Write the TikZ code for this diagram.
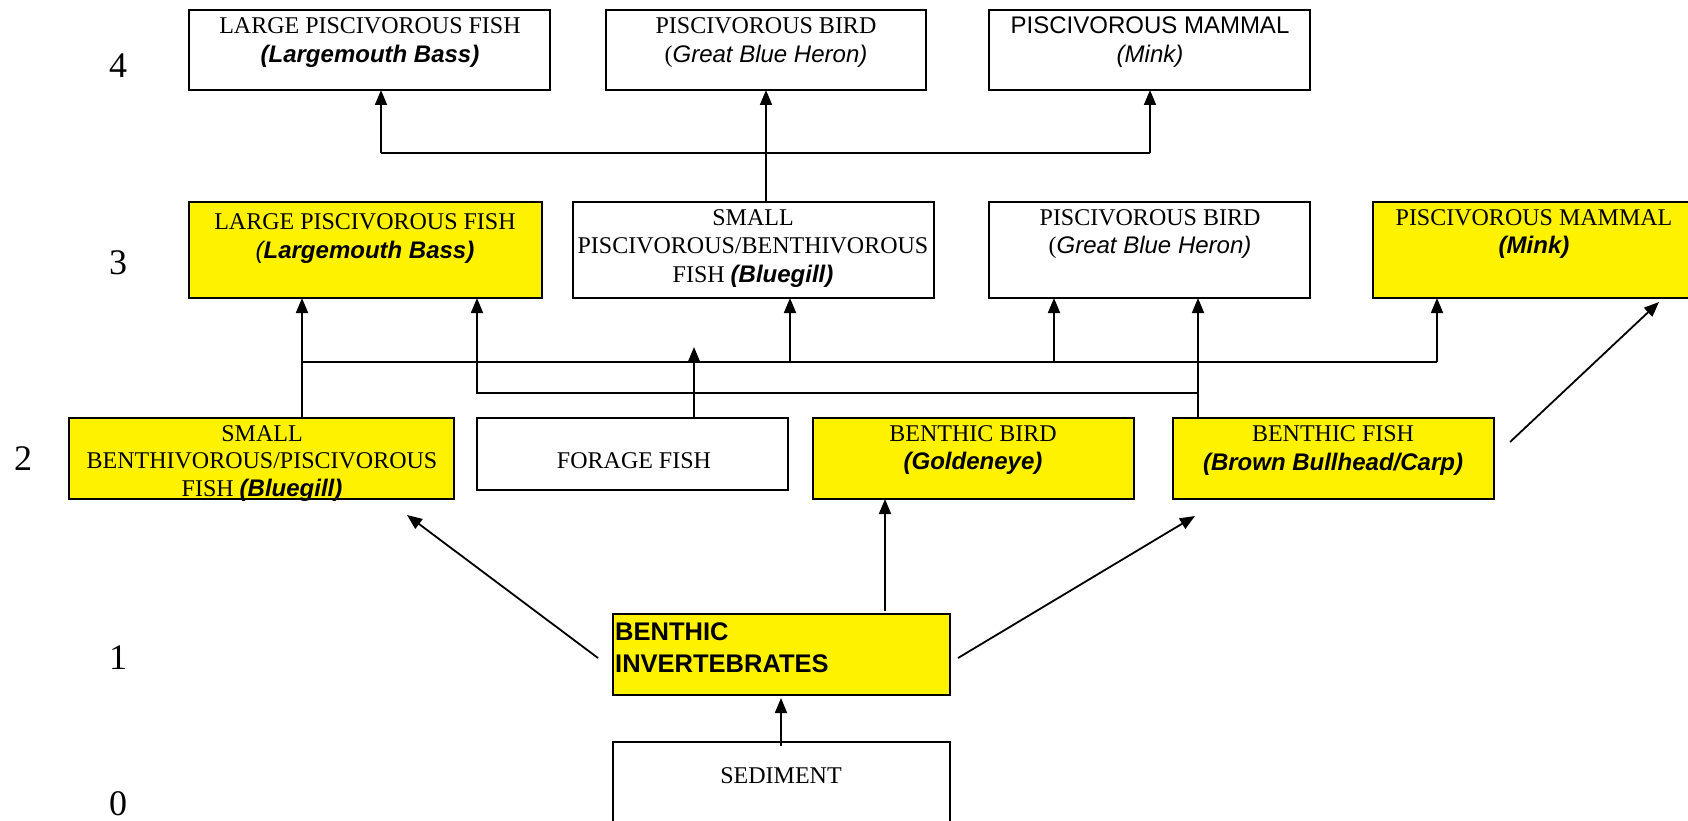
\documentclass[tikz,border=0pt]{standalone}
\usepackage{fontspec}
\setmainfont{Liberation Serif}
\setsansfont{Liberation Sans}
\usetikzlibrary{arrows.meta}
\newcommand\sbi[1]{{\sffamily\bfseries\itshape #1}}
\newcommand\sit[1]{{\sffamily\itshape #1}}
\tikzset{
  box/.style={draw=black, line width=1.8pt, anchor=north west, inner sep=0pt, outer sep=0pt},
  ybox/.style={box, fill=yellow},
  wbox/.style={box, fill=white},
  lbl/.style={anchor=base, inner sep=0pt, font=\fontsize{24}{28}\selectfont},
  lvl/.style={anchor=base, inner sep=0pt, font=\fontsize{36}{40}\selectfont},
  conn/.style={line width=1.8pt},
  arr/.style={conn, -{Triangle[length=15pt,width=12pt]}},
}
\begin{document}
\begin{tikzpicture}[x=1pt,y=-1pt]
\clip (0,0) rectangle (1688,821);
\fill[white] (0,0) rectangle (1688,821);

% level numbers
\node[lvl] (n4) at (118,78) {4};
\node[lvl] (n3) at (118,274) {3};
\node[lvl] (n2) at (23,470) {2};
\node[lvl] (n1) at (118,669) {1};
\node[lvl] (n0) at (118,815) {0};

% level 4
\node[wbox, minimum width=361pt, minimum height=80pt] (a4) at (189,10) {};
\node[lbl] (a4t1) at (370,34) {LARGE PISCIVOROUS FISH};
\node[lbl] (a4t2) at (370,63) {\sbi{(Largemouth Bass)}};
\node[wbox, minimum width=320pt, minimum height=80pt] (b4) at (606,10) {};
\node[lbl] (b4t1) at (766,34) {PISCIVOROUS BIRD};
\node[lbl] (b4t2) at (766,63) {(\sit{Great Blue Heron)}};
\node[wbox, minimum width=321pt, minimum height=80pt] (c4) at (989,10) {};
\node[lbl] (c4t1) at (1150,34) {\sffamily PISCIVOROUS MAMMAL};
\node[lbl] (c4t2) at (1150,63) {\sit{(Mink)}};

% level 3
\node[ybox, minimum width=353pt, minimum height=96pt] (a3) at (189,202) {};
\node[lbl] (a3t1) at (365,229) {LARGE PISCIVOROUS FISH};
\node[lbl] (a3t2) at (365,258) {\sit{(}\sbi{Largemouth Bass)}};
\node[wbox, minimum width=361pt, minimum height=96pt] (b3) at (573,202) {};
\node[lbl] (b3t1) at (753,225) {SMALL};
\node[lbl] (b3t2) at (753,253) {PISCIVOROUS/BENTHIVOROUS};
\node[lbl] (b3t3) at (753,282) {FISH \sbi{(Bluegill)}};
\node[wbox, minimum width=321pt, minimum height=96pt] (c3) at (989,202) {};
\node[lbl] (c3t1) at (1150,225) {PISCIVOROUS BIRD};
\node[lbl] (c3t2) at (1150,253) {(\sit{Great Blue Heron)}};
\node[ybox, minimum width=324pt, minimum height=96pt] (d3) at (1373,202) {};
\node[lbl] (d3t1) at (1534,225) {PISCIVOROUS MAMMAL};
\node[lbl] (d3t2) at (1534,253) {\sbi{(Mink)}};

% level 2
\node[ybox, minimum width=385pt, minimum height=81pt] (a2) at (69,418) {};
\node[lbl] (a2t1) at (262,441) {SMALL};
\node[lbl] (a2t2) at (262,468) {BENTHIVOROUS/PISCIVOROUS};
\node[lbl] (a2t3) at (262,496) {FISH \sbi{(Bluegill)}};
\node[wbox, minimum width=311pt, minimum height=72pt] (b2) at (477,418) {};
\node[lbl] (b2t1) at (634,468) {FORAGE FISH};
\node[ybox, minimum width=321pt, minimum height=81pt] (c2) at (813,418) {};
\node[lbl] (c2t1) at (973,441) {BENTHIC BIRD};
\node[lbl] (c2t2) at (973,469) {\sbi{(Goldeneye)}};
\node[ybox, minimum width=321pt, minimum height=81pt] (d2) at (1173,418) {};
\node[lbl] (d2t1) at (1333,441) {BENTHIC FISH};
\node[lbl] (d2t2) at (1333,470) {\sbi{(Brown Bullhead/Carp)}};

% level 1
\node[ybox, minimum width=337pt, minimum height=81pt] (e1) at (613,614) {};
\node[lbl, anchor=base west, font=\fontsize{25.5}{30}\selectfont\sffamily\bfseries] (e1t1) at (615,640) {BENTHIC};
\node[lbl, anchor=base west, font=\fontsize{25.5}{30}\selectfont\sffamily\bfseries] (e1t2) at (615,672) {INVERTEBRATES};

% level 0
\node[wbox, minimum width=337pt, minimum height=100pt] (s0) at (613,742) {};
\node[lbl] (s0t1) at (781,783) {SEDIMENT};

% connectors level 3 -> 4
\coordinate (h4L) at (381,153);
\coordinate (h4R) at (1150,153);
\draw[conn] (h4L) -- (h4R);
\draw[arr] (h4L) -- (h4L |- a4.south);
\draw[arr] (h4R) -- (h4R |- c4.south);
\draw[arr] (b4.south |- b3.north) -- (b4.south);

% connectors level 2 -> 3
\coordinate (p1) at (302,362);
\coordinate (p2) at (1437,362);
\coordinate (q1) at (790,362);
\coordinate (q2) at (1054,362);
\draw[arr] (p1 |- a2.north) -- (p1 |- a3.south);
\draw[conn] (p1) -- (p2);
\draw[arr] (p2) -- (p2 |- d3.south);
\draw[arr] (q1) -- (q1 |- b3.south);
\draw[arr] (q2) -- (q2 |- c3.south);
\coordinate (r1) at (477,393);
\coordinate (r2) at (1198,393);
\draw[arr] (r2 |- d2.north) -- (r2 |- c3.south);
\draw[arr] (r2) -- (r1) -- (r1 |- a3.south);
\coordinate (f1) at (694,347);
\draw[arr] (f1 |- b2.north) -- (f1);

% diagonal and lower connectors
\coordinate (d2out) at (1510,442);
\coordinate (d3in) at (1659,302);
\draw[arr] (d2out) -- (d3in);
\coordinate (e1l) at (598,658);
\coordinate (a2in) at (407,515);
\draw[arr] (e1l) -- (a2in);
\coordinate (e1r) at (958,658);
\coordinate (d2in) at (1195,516);
\draw[arr] (e1r) -- (d2in);
\coordinate (e1t) at (885,611);
\draw[arr] (e1t) -- (e1t |- c2.south);
\coordinate (s0t) at (781,746);
\coordinate (e1b) at (781,698);
\draw[arr] (s0t) -- (e1b);
\end{tikzpicture}
\end{document}
